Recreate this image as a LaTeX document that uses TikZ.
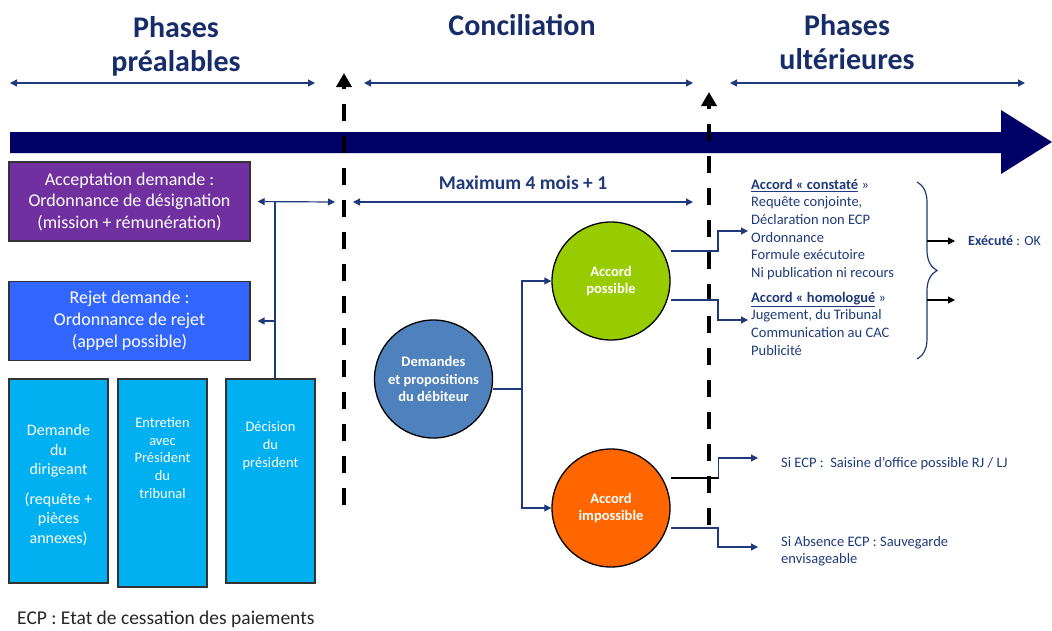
\documentclass[tikz,border=0pt]{standalone}
\usepackage{fontspec}
\setmainfont{Carlito}
\usetikzlibrary{arrows.meta,decorations.pathreplacing}
\definecolor{navy}{RGB}{31,58,122}
\definecolor{titlenavy}{RGB}{23,45,105}
\definecolor{band}{RGB}{0,0,102}
\definecolor{accpurple}{RGB}{112,48,160}
\definecolor{rejblue}{RGB}{51,102,255}
\definecolor{boxcyan}{RGB}{0,176,240}
\definecolor{debblue}{RGB}{79,129,189}
\definecolor{okgreen}{RGB}{153,204,0}
\definecolor{koorange}{RGB}{255,102,0}
\tikzset{>={Triangle[length=7pt,width=7pt]},
  box/.style={draw=black!80,line width=1.2pt,inner sep=0pt},
  boxtxt/.style={text=white,align=center},
  bubble/.style={circle,draw=black,line width=1.3pt,minimum size=118pt,inner sep=0pt,
    text=white,align=center,font=\fontsize{14.5}{17.6}\selectfont\bfseries},
  link/.style={navy,line width=1.2pt},
  phase/.style={navy,line width=1.3pt,<->},
  cut/.style={line width=4pt,dash pattern=on 17pt off 15pt,-{Triangle[length=14pt,width=15pt]}},
  title/.style={text=titlenavy,align=center,font=\fontsize{30}{34}\selectfont\bfseries},
  note/.style={text=navy,align=left,inner sep=0pt,font=\fontsize{14.5}{17.6}\selectfont}}

\begin{document}
\begin{tikzpicture}[x=1pt,y=-1pt]
  \useasboundingbox (0,0) rectangle (1052,630);

  \node[title] (pre) at (176,46) {Phases\\préalables};
  \node[title] (conc) at (522,25) {Conciliation};
  \node[title] (ult) at (847,42) {Phases\\ultérieures};

  \coordinate (p1) at (10,83);  \coordinate (p2) at (315,83);
  \coordinate (p3) at (364,83); \coordinate (p4) at (693,83);
  \coordinate (p5) at (730,83); \coordinate (p6) at (1025,83);
  \draw[phase] (p1) -- (p2);
  \draw[phase] (p3) -- (p4);
  \draw[phase] (p5) -- (p6);

  \fill[band] (10,132) -- (1001,132) -- (1001,110) -- (1052,142)
    -- (1001,174) -- (1001,153) -- (10,153) -- cycle;

  \draw[cut] (344,505) -- (344,73);
  \draw[cut] (709,525) -- (709,92);

  \node[box,fill=accpurple,minimum width=241pt,minimum height=79pt,boxtxt,
    font=\fontsize{18}{21.5}\selectfont] (acc) at (129.5,201.5)
    {Acceptation demande :\\Ordonnance de désignation\\(mission + rémunération)};
  \node[box,fill=rejblue,minimum width=241pt,minimum height=79pt,boxtxt,
    font=\fontsize{18}{22}\selectfont] (rej) at (129.5,321)
    {Rejet demande :\\Ordonnance de rejet\\(appel possible)};

  \node[box,fill=boxcyan,minimum width=99pt,minimum height=204pt] (dem) at (58.5,481) {};
  \node[box,fill=boxcyan,minimum width=89pt,minimum height=208pt] (ent) at (162.5,483) {};
  \node[box,fill=boxcyan,minimum width=89pt,minimum height=204pt] (dec) at (270.5,481) {};
  \node[boxtxt,font=\fontsize{16}{19.5}\selectfont] (demt) at (58.5,485)
    {Demande\\du\\dirigeant\\[10pt](requête +\\pièces\\annexes)};
  \node[boxtxt,font=\fontsize{14.5}{17.6}\selectfont] (entt) at (162.5,458)
    {Entretien\\avec\\Président\\du\\tribunal};
  \node[boxtxt,font=\fontsize{14.5}{18}\selectfont] (dect) at (270.5,446)
    {Décision\\du\\président};

  \coordinate (j1) at (275,202);
  \coordinate (lim) at (335,202);
  \draw[link] (dec.north -| j1) -- (j1);
  \draw[link,<->,shorten <=7pt] (acc.east) -- (lim);
  \draw[link,->,shorten >=7pt] (rej.east -| j1) -- (rej.east);

  \coordinate (m1) at (353,202);
  \coordinate (m2) at (693,202);
  \draw[link,<->] (m1) -- node[above=8pt,text=navy,font=\fontsize{19.5}{22}\selectfont\bfseries]
    (max) {Maximum 4 mois + 1} (m2);

  \node[bubble,fill=debblue] (deb) at (433.5,379) {Demandes\\et propositions\\du débiteur};
  \node[bubble,fill=okgreen] (pos) at (611,281) {Accord\\possible};
  \node[bubble,fill=koorange] (imp) at (611,508) {Accord\\impossible};

  \coordinate (fork) at (522,389);
  \draw[link] ([yshift=-10pt]deb.east) -- (fork);
  \draw[link,->] (fork) |- (pos.west);
  \draw[link,->] (fork) |- (imp.west);

  \node[note,anchor=north west] (cons) at (751,179)
    {\textbf{\underline{Accord « constaté}} »\\Requête conjointe,\\Déclaration non ECP\\
     Ordonnance\\Formule exécutoire\\Ni publication ni recours};
  \node[note,anchor=north west] (homo) at (751,292)
    {\textbf{\underline{Accord « homologué}} »\\Jugement, du Tribunal\\Communication au CAC\\Publicité};

  \coordinate (k1) at (718,231);
  \coordinate (k2) at (718,320);
  \draw[link,->,shorten >=3pt] ([yshift=30pt]pos.east) -| (k1) -- (k1 -| cons.west);
  \draw[link,->,shorten >=3pt] ([yshift=-19pt]pos.east) -| (k2) -- (k2 -| homo.west);

  \node[note,anchor=west] (ecp) at (781,464) {Si ECP :\ \ Saisine d’office possible RJ / LJ};
  \node[note,anchor=north west] (abs) at (781,536) {Si Absence ECP : Sauvegarde\\envisageable};

  \coordinate (k3) at (718,458);
  \coordinate (k4) at (718,547);
  \draw[black,line width=1.2pt] ([yshift=30pt]imp.east) -- ++(48,0) coordinate (k3b);
  \draw[link,->,shorten >=23pt] (k3b) |- (k3 -| ecp.west);
  \draw[link,->,shorten >=23pt] ([yshift=-20pt]imp.east) -| (k4) -- (k4 -| abs.west);

  \draw[link,decorate,decoration={brace,amplitude=20pt}] (917,182) -- (917,359);

  \node[note,anchor=west,font=\fontsize{14}{17}\selectfont] (exe) at (968,241)
    {\textbf{Exécuté} : OK};
  \coordinate (e1) at (927,300);
  \coordinate (e2) at (955,300);
  \draw[black,line width=1.2pt,->] ([xshift=-41pt]exe.west) -- ([xshift=-13pt]exe.west);
  \draw[black,line width=1.2pt,->] (e1) -- (e2);

  \node[anchor=west,inner sep=0pt,text=black!85,font=\fontsize{19.5}{22}\selectfont] (leg)
    at (17,619) {ECP : Etat de cessation des paiements};
\end{tikzpicture}
\end{document}
